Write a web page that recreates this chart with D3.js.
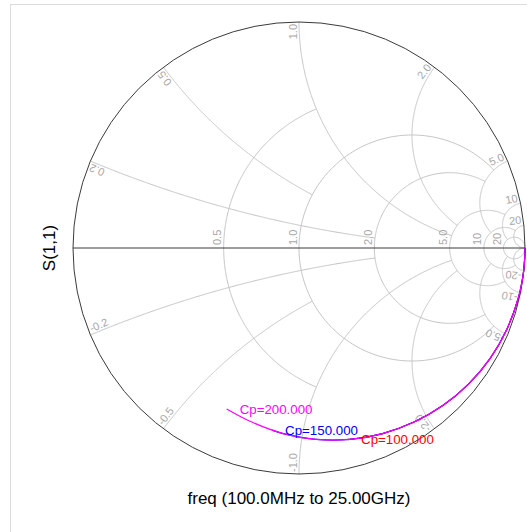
<!DOCTYPE html>
<html><head><meta charset="utf-8">
<script src="https://cdn.jsdelivr.net/npm/d3@7"></script>
<style>body{margin:0;background:#fff}svg{display:block}</style>
</head><body>
<svg id="chart" width="527" height="532"></svg>
<script>
// ---- grid values ----
const resistanceValues = [0.5, 1, 2, 5, 10, 20];
const resistanceLabels = ["0.5", "1.0", "2.0", "5.0", "10", "20"];
const resistanceLimits = [1, 5, 5, 10, 20, Infinity];
const reactanceValues = [0.2, 0.5, 1, 2, 5, 10, 20];
const reactanceLabels = ["0.2", "0.5", "1.0", "2.0", "5.0", "10", "20"];
const reactanceNegLabels = ["-0.2", "-0.5", "-1.0", "-2.0", "-5.0", "-10", "-20"];
const reactanceLimits = [2, 1, 5, 5, 10, 20, Infinity];

// ---- traces: S(1,1) reflection coefficient (real, imag) ----
const traceNames = ["Cp=100.000", "Cp=150.000", "Cp=200.000"];
const gammaReCp100 = [1.000, 0.999, 0.992, 0.971, 0.920, 0.846, 0.751, 0.638, 0.509, 0.370, 0.217];
const gammaImCp100 = [0.000, -0.044, -0.118, -0.220, -0.359, -0.488, -0.601, -0.696, -0.770, -0.821, -0.848];
const gammaReCp150 = [1.000, 0.999, 0.992, 0.971, 0.920, 0.846, 0.751, 0.638, 0.509, 0.370, 0.224, 0.076, -0.070, -0.119];
const gammaImCp150 = [0.000, -0.044, -0.118, -0.220, -0.359, -0.488, -0.601, -0.696, -0.770, -0.821, -0.847, -0.847, -0.821, -0.806];
const gammaReCp200 = [1.000, 0.999, 0.992, 0.971, 0.920, 0.846, 0.751, 0.638, 0.509, 0.370, 0.224, 0.076, -0.070, -0.209, -0.320];
const gammaImCp200 = [0.000, -0.044, -0.118, -0.220, -0.359, -0.488, -0.601, -0.696, -0.770, -0.821, -0.847, -0.847, -0.821, -0.770, -0.712];

const xTitle = "freq (100.0MHz to 25.00GHz)";
const yTitle = "S(1,1)";

// ---- styles / layout ----
const traceColors = ["#ff0000", "#0000ff", "#ff00ff"];
const cx = 299, cy = 248, R = 226;
const font = "Liberation Sans, Arial, Helvetica, sans-serif";

const svg = d3.select("#chart");
const sx = d3.scaleLinear().domain([-1, 1]).range([cx - R, cx + R]);
const sy = d3.scaleLinear().domain([-1, 1]).range([cy + R, cy - R]);
const line = d3.line().x(d => sx(d[0])).y(d => sy(d[1]));

function gamma(r, x) {
  const den = (r + 1) * (r + 1) + x * x;
  return [(r * r - 1 + x * x) / den, (2 * x) / den];
}

// frame
svg.append("rect").attr("x", 10.5).attr("y", 4.5).attr("width", 700).attr("height", 700)
  .attr("fill", "none").attr("stroke", "#dcdcdc");

const grid = svg.append("g").attr("fill", "none").attr("stroke", "#c4c4c4").attr("stroke-width", 1);

// resistance circles
resistanceValues.forEach((r, i) => {
  const c = r / (1 + r), rho = 1 / (1 + r), L = resistanceLimits[i];
  let p0 = 0, p1 = 2 * Math.PI;
  if (isFinite(L)) {
    const g = gamma(r, L);
    p0 = Math.atan2(g[1], g[0] - c);
    p1 = 2 * Math.PI - p0;
  }
  const pts = d3.range(0, 301).map(k => {
    const p = p0 + (p1 - p0) * k / 300;
    return [c + rho * Math.cos(p), rho * Math.sin(p)];
  });
  grid.append("path").attr("d", line(pts));
});

// reactance arcs
reactanceValues.forEach((v, i) => {
  [1, -1].forEach(s => {
    const xv = s * v, L = reactanceLimits[i];
    const g0 = gamma(0, xv);
    const g1 = isFinite(L) ? gamma(L, xv) : [1, 0];
    const ccy = 1 / xv, rho = 1 / v;
    const t0 = Math.atan2(g0[1] - ccy, g0[0] - 1);
    let t1 = Math.atan2(g1[1] - ccy, g1[0] - 1);
    let d = t1 - t0;
    while (d > Math.PI) d -= 2 * Math.PI;
    while (d < -Math.PI) d += 2 * Math.PI;
    const pts = d3.range(0, 301).map(k => {
      const t = t0 + d * k / 300;
      return [1 + rho * Math.cos(t), ccy + rho * Math.sin(t)];
    });
    grid.append("path").attr("d", line(pts));
  });
});

// rim and real axis
svg.append("circle").attr("cx", sx(0)).attr("cy", sy(0)).attr("r", sx(1) - sx(0))
  .attr("fill", "none").attr("stroke", "#3a3a3a").attr("stroke-width", 1);
svg.append("line").attr("x1", sx(-1)).attr("x2", sx(1)).attr("y1", sy(0)).attr("y2", sy(0))
  .attr("stroke", "#3a3a3a").attr("stroke-width", 1);

// grid labels
const lab = svg.append("g").attr("font-family", font).attr("font-size", 11).attr("fill", "#a8a8a8");
resistanceValues.forEach((r, i) => {
  const g = gamma(r, 0);
  lab.append("text").attr("text-anchor", "start")
    .attr("transform", `translate(${sx(g[0]) - 2.5},${sy(0) - 3}) rotate(-90)`)
    .text(resistanceLabels[i]);
});
reactanceValues.forEach((v, i) => {
  // positive: reads outward, ends at rim
  let g = gamma(0, v);
  let px = sx(g[0]), py = sy(g[1]);
  let dx = g[0], dy = -g[1]; // outward screen dir
  let ux = dy, uy = -dx;
  let ang = Math.atan2(dy, dx) * 180 / Math.PI;
  lab.append("text").attr("text-anchor", "end")
    .attr("transform", `translate(${px - dx * 2 + ux * 2},${py - dy * 2 + uy * 2}) rotate(${ang})`)
    .text(reactanceLabels[i]);
  // negative: reads inward, starts at rim
  g = gamma(0, -v);
  px = sx(g[0]); py = sy(g[1]);
  dx = -g[0]; dy = g[1]; // inward screen dir
  ux = dy; uy = -dx;
  ang = Math.atan2(dy, dx) * 180 / Math.PI;
  lab.append("text").attr("text-anchor", "start")
    .attr("transform", `translate(${px + dx * 2 + ux * 2},${py + dy * 2 + uy * 2}) rotate(${ang})`)
    .text(reactanceNegLabels[i]);
});

// traces
const traces = [
  [gammaReCp100, gammaImCp100],
  [gammaReCp150, gammaImCp150],
  [gammaReCp200, gammaImCp200]
];
const tline = d3.line().x(d => sx(d[0])).y(d => sy(d[1])).curve(d3.curveCatmullRom);
traces.forEach((t, i) => {
  const pts = t[0].map((re, k) => [re, t[1][k]]);
  svg.append("path").attr("d", tline(pts)).attr("fill", "none")
    .attr("stroke", traceColors[i]).attr("stroke-width", 1.2);
});
traces.forEach((t, i) => {
  const n = t[0].length - 1;
  svg.append("text").attr("x", sx(t[0][n]) + 13).attr("y", sy(t[1][n]))
    .attr("dy", "0.35em").attr("font-family", font).attr("font-size", 13.3)
    .attr("fill", traceColors[i]).text(traceNames[i]);
});

// axis titles
svg.append("text").attr("x", cx).attr("y", 504).attr("text-anchor", "middle")
  .attr("font-family", font).attr("font-size", 17).attr("fill", "#000").text(xTitle);
svg.append("text").attr("transform", `translate(55,${cy}) rotate(-90)`).attr("text-anchor", "middle")
  .attr("font-family", font).attr("font-size", 17).attr("fill", "#000").text(yTitle);
</script>
</body></html>
